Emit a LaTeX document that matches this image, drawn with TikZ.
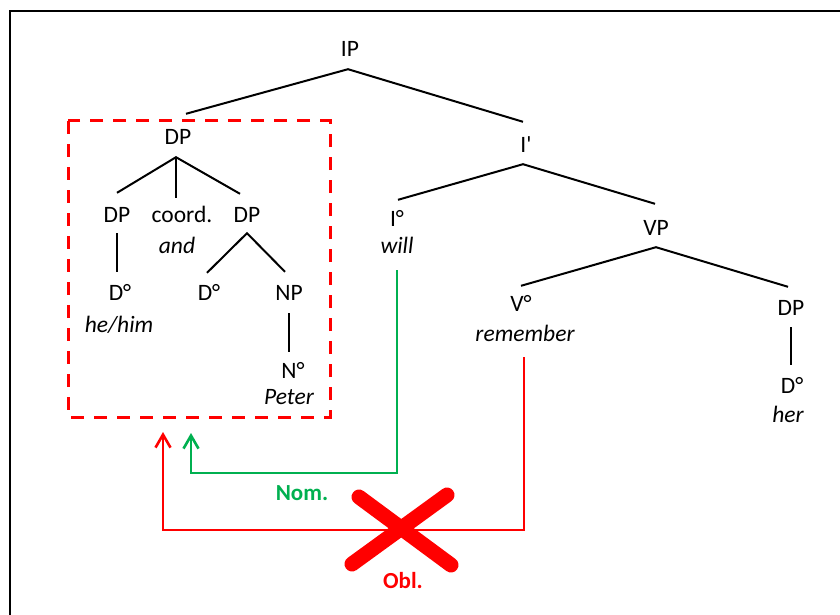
\documentclass[tikz,border=0pt]{standalone}
\usepackage{fontspec}
\setmainfont{Carlito}
\usetikzlibrary{arrows.meta}
\definecolor{xred}{RGB}{255,0,0}
\definecolor{xgreen}{RGB}{0,176,80}
\begin{document}
\begin{tikzpicture}[x=1pt,y=-1pt,
  cat/.style={font=\fontsize{23.5}{27}\selectfont, inner sep=0pt, text height=14pt, text depth=0pt, anchor=base},
  word/.style={font=\fontsize{23.5}{27}\selectfont\itshape, inner sep=0pt, anchor=base},
  lbl/.style={font=\fontsize{23}{27}\selectfont\bfseries, inner sep=0pt, anchor=base},
  edge/.style={line width=2pt, black},
  caseline/.style={line width=2.6pt, -{Straight Barb[length=13pt,width=15pt,line width=2.6pt]}},
  groupbox/.style={xred, line width=3pt, dash pattern=on 13pt off 10pt},
  cross/.style={xred, line width=15pt, line cap=round}]
\useasboundingbox (0,0) rectangle (840,615);
\clip (0,0) rectangle (840,615);
\fill[white] (0,0) rectangle (840,615);
% frame (cut at right and bottom)
\draw[line width=2.5pt, black] (10,11) rectangle (860,640);

% categories
\node[cat] (IP) at (350,57) {IP};
\node[cat] (DP1) at (178,144) {DP};
\node[cat] (DPl) at (117,222) {DP};
\node[cat] (coord) at (182,222) {coord.};
\node[cat] (DPr) at (247,222) {DP};
\node[cat] (Dl) at (120,300) {D°};
\node[cat] (Dm) at (209,300) {D°};
\node[cat] (NP) at (289,300) {NP};
\node[cat] (No) at (293,378) {N°};
\node[cat] (Ip) at (526,152) {I\textquotesingle};
\node[cat] (Io) at (397,226) {I°};
\node[cat] (VP) at (656,235) {VP};
\node[cat] (Vo) at (521,311) {V°};
\node[cat] (DPv) at (791,315) {DP};
\node[cat] (Dv) at (792,393) {D°};

% words
\node[word] (and) at (177,253) {and};
\node[word] (hehim) at (119,332) {he/him};
\node[word] (peter) at (289,404) {Peter};
\node[word] (will) at (397,253) {will};
\node[word] (rem) at (525,341) {remember};
\node[word] (her) at (788,422) {her};

% tree edges
\draw[edge] ([xshift=8pt,yshift=16pt]DP1.north) -- ([xshift=-2pt,yshift=-12pt]IP.south) -- ([xshift=-3pt,yshift=16pt]Ip.north);
\draw[edge] ([yshift=15pt]DPl.north) -- ([xshift=-2pt,yshift=-13pt]DP1.south) -- ([xshift=-7pt,yshift=14pt]DPr.north);
\draw[edge] ([xshift=-2pt,yshift=-13pt]DP1.south) -- ([xshift=-6pt,yshift=10pt]coord.north);
\draw[edge] ([yshift=-11pt]DPl.south) -- ([xshift=-3pt,yshift=14pt]Dl.north);
\draw[edge] ([xshift=-2pt,yshift=13pt]Dm.north) -- ([yshift=-11pt]DPr.south) -- ([xshift=-4pt,yshift=14pt]NP.north);
\draw[edge] ([yshift=-13pt]NP.south) -- ([xshift=-4pt,yshift=12pt]No.north);
\draw[edge] ([xshift=1pt,yshift=12pt]Io.north) -- ([xshift=-3pt,yshift=-12pt]Ip.south) -- ([xshift=-1pt,yshift=17pt]VP.north);
\draw[edge] ([yshift=11pt]Vo.north) -- ([yshift=-12pt]VP.south) -- ([xshift=-3pt,yshift=14pt]DPv.north);
\draw[edge] ([yshift=-12pt]DPv.south) -- ([xshift=-1pt,yshift=14pt]Dv.north);

% dashed group box
\draw[groupbox] (68,121) rectangle (330,417);

% case assignment arrows
\coordinate (nomtip) at (191,433);
\coordinate (obltip) at (163,432);
\draw[caseline, xgreen] ([yshift=-17pt]will.base) |- ([yshift=-40pt]nomtip) -- (nomtip);
\draw[caseline, xred] ([xshift=-1pt,yshift=-16pt]rem.base) |- ([yshift=-98pt]obltip) -- (obltip);

% red cross
\draw[cross] (359,497) -- (451,565);
\draw[cross] (447,495) -- (352,564);

% labels
\node[lbl, text=xgreen] (nom) at (302,500) {Nom.};
\node[lbl, text=xred] (obl) at (403,588) {Obl.};
\end{tikzpicture}
\end{document}
